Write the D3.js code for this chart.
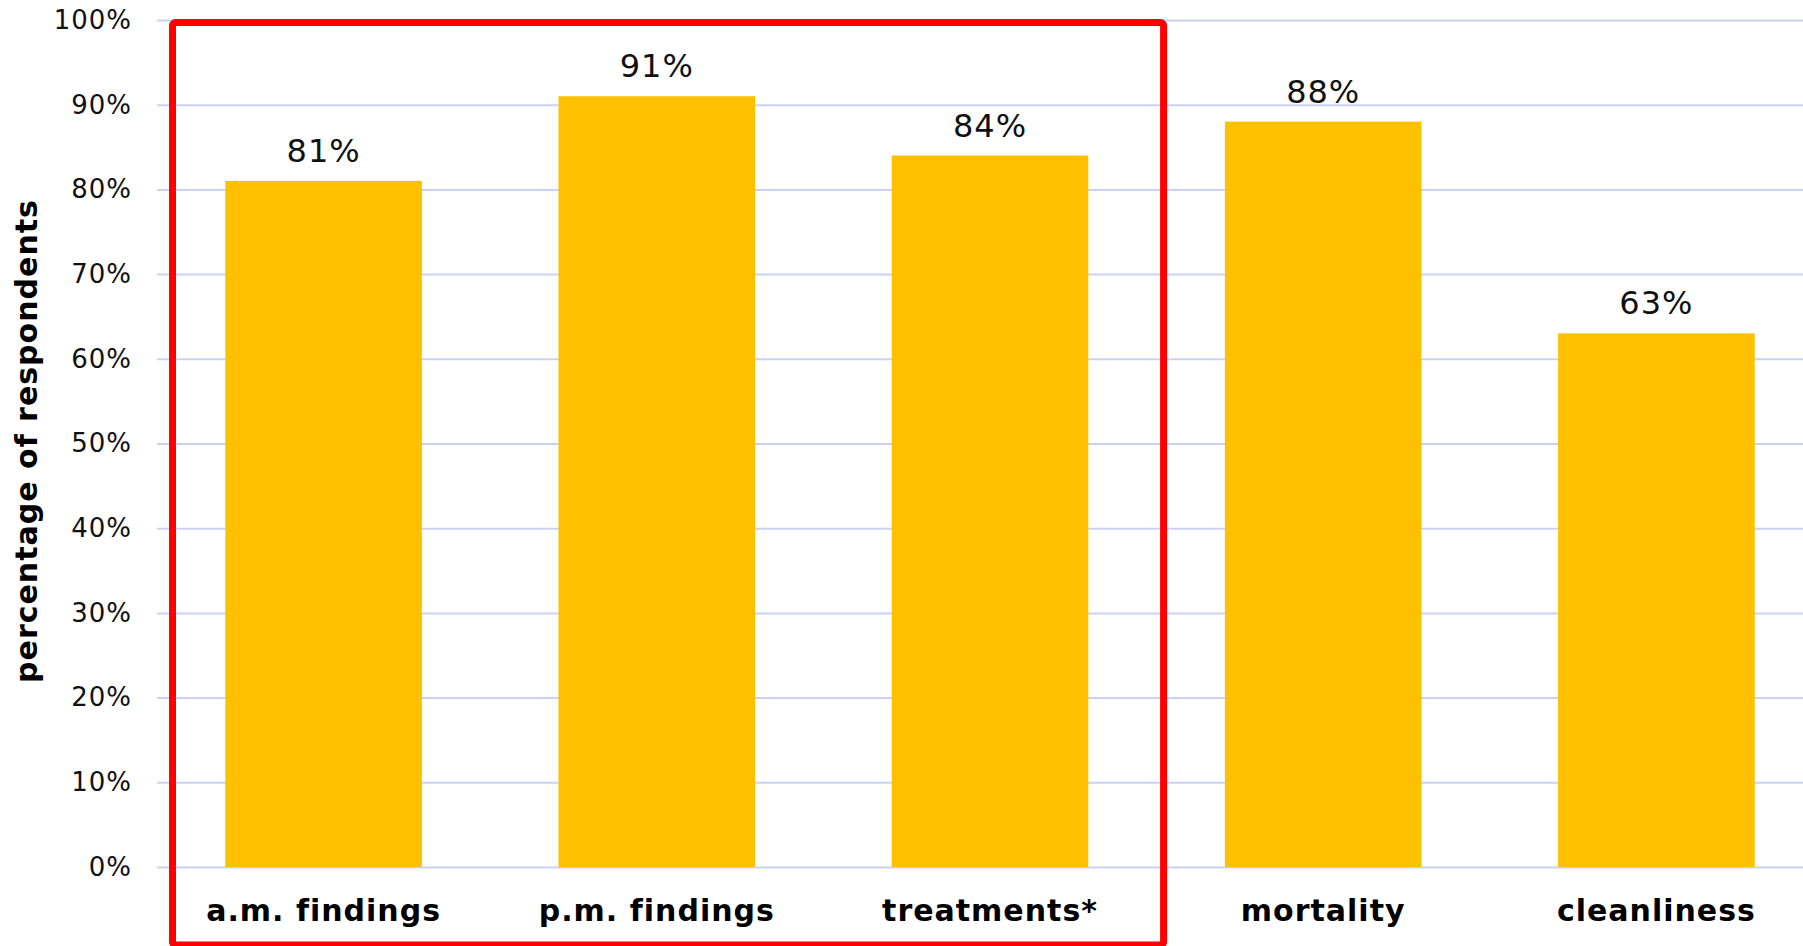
<!DOCTYPE html>
<html>
<head>
<meta charset="utf-8">
<script src="https://cdn.jsdelivr.net/npm/d3@7"></script>
<style>
  html, body { margin: 0; padding: 0; background: #ffffff; }
  svg { display: block; }
</style>
</head>
<body>
<svg id="chart" width="1803" height="946"></svg>
<script>
// Survey results: share of respondents per inspection topic
const categories = ["a.m. findings", "p.m. findings", "treatments*", "mortality", "cleanliness"];
const values = [0.81, 0.91, 0.84, 0.88, 0.63];
const yTicks = [0, 0.1, 0.2, 0.3, 0.4, 0.5, 0.6, 0.7, 0.8, 0.9, 1.0];
const highlighted = ["a.m. findings", "p.m. findings", "treatments*"];
const yTitle = "percentage of respondents";

const svg = d3.select("#chart");
const W = 1803, H = 946;
const plot = { left: 157, right: 1823, top: 20, bottom: 867 };

const x = d3.scaleBand()
  .domain(categories)
  .range([plot.left, plot.right])
  .paddingInner(0.41)
  .paddingOuter(0.205);

const y = d3.scaleLinear()
  .domain([0, 1])
  .range([plot.bottom, plot.top]);

// Horizontal gridlines and percentage ticks
const yAxis = d3.axisLeft(y)
  .tickValues(yTicks)
  .tickFormat(d3.format(".0%"))
  .tickSize(-(W - plot.left))
  .tickPadding(25);

const gy = svg.append("g")
  .attr("transform", `translate(${plot.left},0)`)
  .call(yAxis);
gy.select(".domain").remove();
gy.selectAll(".tick line")
  .attr("stroke", "#cbd1f3")
  .attr("stroke-width", 2);
gy.selectAll(".tick text")
  .attr("font-family", "'DejaVu Sans', Verdana, sans-serif")
  .attr("font-size", 26)
  .attr("letter-spacing", 1)
  .attr("fill", "#111");

// Bars
svg.append("g")
  .selectAll("rect")
  .data(categories)
  .join("rect")
  .attr("x", d => x(d))
  .attr("width", x.bandwidth())
  .attr("y", (d, i) => y(values[i]))
  .attr("height", (d, i) => y(0) - y(values[i]))
  .attr("fill", "#ffc000");

// Value labels above bars
svg.append("g")
  .selectAll("text")
  .data(categories)
  .join("text")
  .attr("x", d => x(d) + x.bandwidth() / 2)
  .attr("y", (d, i) => y(values[i]) - 19)
  .attr("text-anchor", "middle")
  .attr("font-family", "'DejaVu Sans', Verdana, sans-serif")
  .attr("font-size", 32)
  .attr("letter-spacing", 1)
  .attr("fill", "#111")
  .text((d, i) => d3.format(".0%")(values[i]));

// Category axis
const xAxis = d3.axisBottom(x).tickSize(0).tickPadding(0);
const gx = svg.append("g")
  .attr("transform", `translate(0,${plot.bottom})`)
  .call(xAxis);
gx.select(".domain").remove();
gx.selectAll(".tick text")
  .attr("y", 54)
  .attr("dy", 0)
  .attr("font-family", "'DejaVu Sans', Verdana, sans-serif")
  .attr("font-weight", "bold")
  .attr("font-size", 30)
  .attr("letter-spacing", 1)
  .attr("fill", "#000");

// Y-axis title
svg.append("text")
  .attr("transform", `translate(37, 441) rotate(-90)`)
  .attr("text-anchor", "middle")
  .attr("font-family", "'DejaVu Sans', Verdana, sans-serif")
  .attr("font-weight", "bold")
  .attr("font-size", 30)
  .attr("letter-spacing", 1)
  .attr("fill", "#000")
  .text(yTitle);

// Frame around the highlighted group of categories
const first = highlighted[0], last = highlighted[highlighted.length - 1];
const step = x.step();
const boxLeft = x(first) - (x(first) - plot.left) + 15.5;
const boxRight = x(last) + x.bandwidth() + (step - x.bandwidth()) / 2 + 7;
svg.append("rect")
  .attr("x", boxLeft)
  .attr("y", 22.5)
  .attr("width", boxRight - boxLeft)
  .attr("height", 945 - 22.5)
  .attr("rx", 3)
  .attr("fill", "none")
  .attr("stroke", "#ff0000")
  .attr("stroke-width", 7);
</script>
</body>
</html>
